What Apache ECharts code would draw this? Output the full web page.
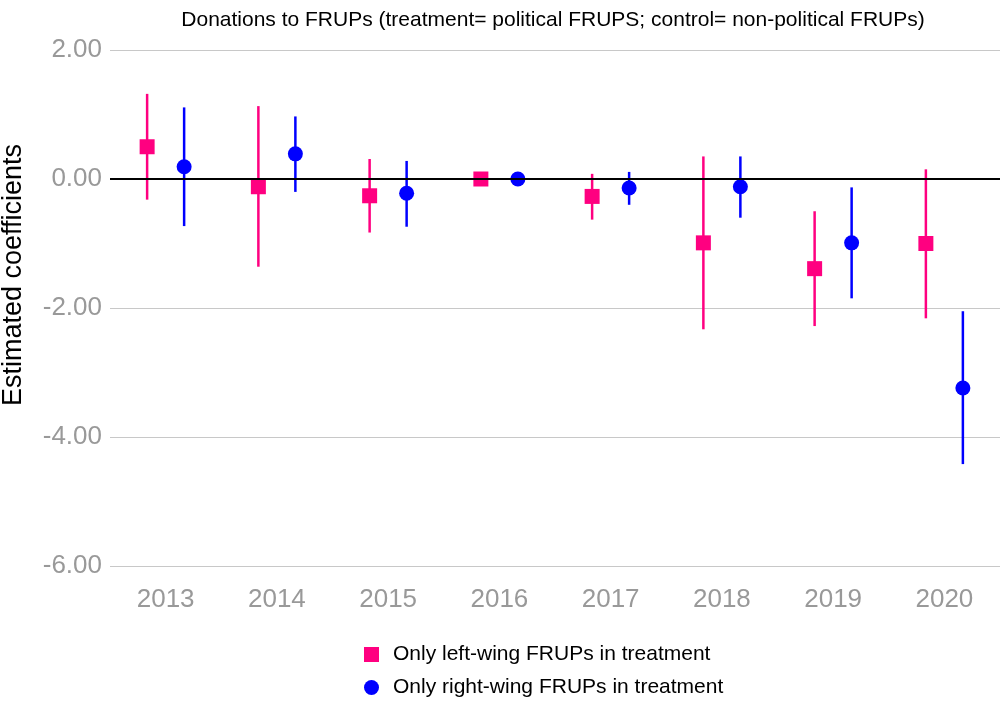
<!DOCTYPE html>
<html>
<head>
<meta charset="utf-8">
<script src="https://cdn.jsdelivr.net/npm/echarts@6/dist/echarts.min.js"></script>
<style>
    html, body { margin: 0; padding: 0; background: #fff; }
    #main { width: 1003px; height: 703px; }
</style>
</head>
<body>
<div id="main"></div>
<script>
    // years on the x axis
    var years = ['2013', '2014', '2015', '2016', '2017', '2018', '2019', '2020'];
    var yTicks = [-6, -4, -2, 0, 2];

    // only left-wing FRUPs in treatment (pink squares)
    var leftEst = [0.50, -0.12, -0.26, 0, -0.27, -0.99, -1.39, -1.00];
    var leftLo  = [-0.32, -1.36, -0.83, 0, -0.63, -2.33, -2.28, -2.16];
    var leftHi  = [1.32, 1.13, 0.31, 0, 0.08, 0.35, -0.50, 0.15];

    // only right-wing FRUPs in treatment (blue circles)
    var rightEst = [0.19, 0.39, -0.22, 0, -0.14, -0.12, -0.99, -3.24];
    var rightLo  = [-0.73, -0.20, -0.74, 0, -0.40, -0.60, -1.85, -4.42];
    var rightHi  = [1.11, 0.97, 0.28, 0, 0.11, 0.35, -0.13, -2.05];

    var leftName = 'Only left-wing FRUPs in treatment';
    var rightName = 'Only right-wing FRUPs in treatment';

    var pink = '#ff0080';
    var blue = '#0000ff';
    var dodge = 18.5;   // px shift of each group from the category centre

    function errorBar(shift, color) {
        return function (params, api) {
            var i = api.value(0);
            var lo = api.coord([i, api.value(1)]);
            var hi = api.coord([i, api.value(2)]);
            return {
                type: 'line',
                shape: { x1: lo[0] + shift, y1: lo[1], x2: hi[0] + shift, y2: hi[1] },
                style: { stroke: color, lineWidth: 2.5 }
            };
        };
    }

    function barData(lo, hi) {
        return years.map(function (y, i) { return [i, lo[i], hi[i]]; });
    }

    var myChart = echarts.init(document.getElementById('main'));
    var font = "'Liberation Sans', Arial, Helvetica, sans-serif";
    var legendText = { fontSize: 21, color: '#000', fontFamily: font, padding: [0, 0, 0, 9] };

    var option = {
        animation: false,
        textStyle: { fontFamily: font },
        title: {
            text: 'Donations to FRUPs (treatment= political FRUPS; control= non-political FRUPs)',
            left: 548,
            top: 5,
            textAlign: 'center',
            textStyle: { fontSize: 21, fontWeight: 'normal', color: '#000', fontFamily: font }
        },
        grid: { left: 110, right: 3, top: 50, bottom: 137, containLabel: false, outerBoundsMode: 'none' },
        legend: [
            {
                data: [{ name: leftName, icon: 'rect' }],
                left: 364,
                top: 644,
                padding: 0,
                itemWidth: 15,
                itemHeight: 15,
                textStyle: legendText
            },
            {
                data: [{ name: rightName, icon: 'circle' }],
                left: 364,
                top: 677,
                padding: 0,
                itemWidth: 15,
                itemHeight: 15,
                textStyle: legendText
            }
        ],
        xAxis: {
            type: 'category',
            data: years,
            axisLine: { show: false },
            axisTick: { show: false },
            axisLabel: { fontSize: 26, color: '#999', margin: 21, fontFamily: font },
            splitLine: { show: false }
        },
        yAxis: {
            type: 'value',
            min: yTicks[0],
            max: yTicks[yTicks.length - 1],
            interval: 2,
            name: 'Estimated coefficients',
            nameLocation: 'middle',
            nameGap: 83,
            nameTextStyle: { fontSize: 27, color: '#000', fontFamily: font, padding: [0, 0, 0, 66] },
            axisLine: { show: false },
            axisTick: { show: false },
            axisLabel: {
                fontSize: 26, color: '#999', margin: 8, fontFamily: font,
                formatter: function (v) { return v.toFixed(2); }
            },
            splitLine: { lineStyle: { color: '#c8c8c8', width: 1 } }
        },
        series: [
            {
                type: 'custom',
                renderItem: errorBar(-dodge, pink),
                data: barData(leftLo, leftHi),
                z: 3,
                markLine: {
                    silent: true,
                    symbol: 'none',
                    label: { show: false },
                    lineStyle: { color: '#000', width: 2, type: 'solid' },
                    data: [{ yAxis: 0 }]
                }
            },
            {
                type: 'custom',
                renderItem: errorBar(dodge, blue),
                data: barData(rightLo, rightHi),
                z: 3
            },
            {
                name: leftName,
                type: 'scatter',
                symbol: 'rect',
                symbolSize: 15,
                symbolOffset: [-dodge, 0],
                itemStyle: { color: pink, opacity: 1 },
                data: leftEst,
                z: 4
            },
            {
                name: rightName,
                type: 'scatter',
                symbol: 'circle',
                symbolSize: 15,
                symbolOffset: [dodge, 0],
                itemStyle: { color: blue, opacity: 1 },
                data: rightEst,
                z: 4
            }
        ]
    };
    myChart.setOption(option);
</script>
</body>
</html>
